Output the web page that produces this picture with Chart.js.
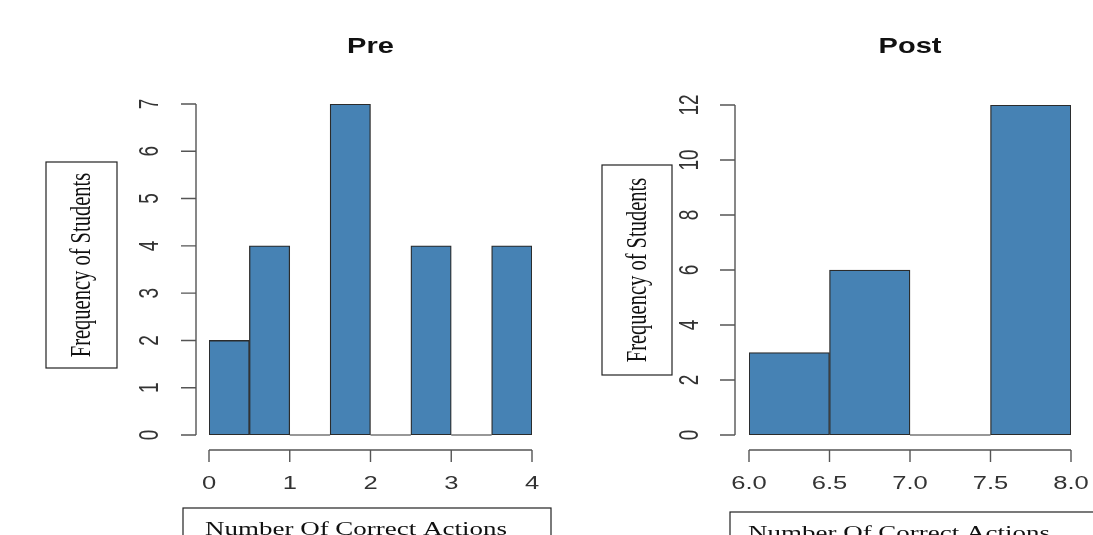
<!DOCTYPE html>
<html>
<head>
<meta charset="utf-8">
<script src="https://cdn.jsdelivr.net/npm/chart.js@4.4.0/dist/chart.umd.min.js"></script>
<style>
  html, body { margin: 0; padding: 0; background: #fff; overflow: hidden; }
  #wrap { position: relative; width: 1093px; height: 535px; }
  #pre { position: absolute; left: 0; top: 0; }
  #post { position: absolute; left: 546px; top: 0; }
</style>
</head>
<body>
<div id="wrap">
  <canvas id="pre" width="560" height="535"></canvas>
  <canvas id="post" width="547" height="535"></canvas>
</div>
<script>
// Данные гистограмм (начало интервала, ширина 0.5)
const binWidth = 0.5;
const preBinStarts = [0, 0.5, 1, 1.5, 2, 2.5, 3, 3.5];
const preCounts = [2, 4, 0, 7, 0, 4, 0, 4];
const postBinStarts = [6, 6.5, 7, 7.5];
const postCounts = [3, 6, 0, 12];

// Подписи осей
const preXTicks = [0, 1, 2, 3, 4];
const preXLabels = ["0", "1", "2", "3", "4"];
const preYTicks = [0, 1, 2, 3, 4, 5, 6, 7];
const postXTicks = [6, 6.5, 7, 7.5, 8];
const postXLabels = ["6.0", "6.5", "7.0", "7.5", "8.0"];
const postYTicks = [0, 2, 4, 6, 8, 10, 12];

const barColor = "#4682B4";
const axisColor = "#555";
const stretch = 1.42; // картинка растянута по горизонтали

// текст, растянутый по горизонтали экрана (rot - повернут на 90°)
function sText(ctx, txt, x, y, sx, rot) {
  ctx.save();
  ctx.translate(x, y);
  if (rot) {
    ctx.rotate(-Math.PI / 2);
    ctx.scale(1, sx);
  } else {
    ctx.scale(sx, 1);
  }
  ctx.fillText(txt, 0, 0);
  ctx.restore();
}

// Оси в стиле R: смещены от области графика, подписи Y повернуты
const rAxes = {
  id: "rAxes",
  afterDatasetsDraw(chart, args, o) {
    const ctx = chart.ctx, xs = chart.scales.x, ys = chart.scales.y;
    const area = chart.chartArea;
    ctx.save();

    // пустые интервалы - линия по нулю
    ctx.strokeStyle = "#333";
    ctx.lineWidth = 1.2;
    ctx.beginPath();
    o.binStarts.forEach((s, i) => {
      if (o.counts[i] === 0) {
        const y = ys.getPixelForValue(0);
        ctx.moveTo(xs.getPixelForValue(s), y);
        ctx.lineTo(xs.getPixelForValue(s + binWidth), y);
      }
    });
    ctx.stroke();

    ctx.strokeStyle = axisColor;
    ctx.lineWidth = 1.4;

    // ось Y
    const ax = area.left - o.yGap;
    ctx.beginPath();
    ctx.moveTo(ax, ys.getPixelForValue(o.yTicks[0]));
    ctx.lineTo(ax, ys.getPixelForValue(o.yTicks[o.yTicks.length - 1]));
    o.yTicks.forEach((v) => {
      const p = ys.getPixelForValue(v);
      ctx.moveTo(ax, p);
      ctx.lineTo(ax - 15, p);
    });
    ctx.stroke();

    ctx.fillStyle = "#333";
    ctx.font = "19px 'Liberation Sans', Arial, sans-serif";
    ctx.textAlign = "center";
    ctx.textBaseline = "middle";
    o.yTicks.forEach((v) => {
      sText(ctx, String(v), o.yLabelX, ys.getPixelForValue(v), stretch, true);
    });

    // ось X
    const ay = area.bottom + 15;
    ctx.beginPath();
    ctx.moveTo(xs.getPixelForValue(o.xTicks[0]), ay);
    ctx.lineTo(xs.getPixelForValue(o.xTicks[o.xTicks.length - 1]), ay);
    o.xTicks.forEach((v) => {
      const p = xs.getPixelForValue(v);
      ctx.moveTo(p, ay);
      ctx.lineTo(p, ay + 12);
    });
    ctx.stroke();
    ctx.font = "18px 'Liberation Sans', Arial, sans-serif";
    o.xTicks.forEach((v, i) => {
      sText(ctx, o.xLabels[i], xs.getPixelForValue(v), 484, stretch, false);
    });

    // заголовок
    ctx.fillStyle = "#111";
    ctx.font = "bold 22px 'Liberation Sans', Arial, sans-serif";
    sText(ctx, o.title, (area.left + area.right) / 2, 47, 1.32, false);

    // рамки с подписями осей
    ctx.strokeStyle = "#222";
    ctx.lineWidth = 1.2;
    const yb = o.yBox;
    ctx.strokeRect(yb[0], yb[1], yb[2], yb[3]);
    ctx.fillStyle = "#111";
    ctx.font = "20.5px 'Liberation Serif', 'Times New Roman', serif";
    sText(ctx, "Frequency of Students", yb[0] + yb[2] / 2 + 1, yb[1] + yb[3] / 2, stretch, true);

    const xb = o.xBox;
    ctx.strokeRect(xb[0], xb[1], xb[2], xb[3]);
    ctx.font = "19px 'Liberation Serif', 'Times New Roman', serif";
    ctx.textAlign = "left";
    ctx.textBaseline = "alphabetic";
    sText(ctx, "Number Of Correct Actions", xb[0] + o.xTitleInset, xb[1] + 27, stretch, false);

    ctx.restore();
  },
};

function makeHist(id, starts, counts, xMin, xMax, yMax, pad, axes) {
  const points = starts.map((s, i) => ({ x: s + binWidth / 2, y: counts[i] }));
  return new Chart(document.getElementById(id).getContext("2d"), {
    type: "bar",
    data: {
      datasets: [
        {
          data: points,
          backgroundColor: barColor,
          borderColor: "#2b2b2b",
          borderWidth: 1.3,
          borderSkipped: false,
          barPercentage: 1,
          categoryPercentage: 1,
        },
      ],
    },
    options: {
      responsive: false,
      animation: false,
      layout: { padding: pad },
      plugins: {
        legend: { display: false },
        tooltip: { enabled: false },
        rAxes: Object.assign({ binStarts: starts, counts: counts }, axes),
      },
      scales: {
        x: { type: "linear", min: xMin, max: xMax, offset: false, display: false },
        y: { min: 0, max: yMax, display: false },
      },
    },
    plugins: [rAxes],
  });
}

makeHist("pre", preBinStarts, preCounts, 0, 4, 7,
  { left: 209, right: 28, top: 104, bottom: 100 },
  {
    title: "Pre",
    xTicks: preXTicks, xLabels: preXLabels, yTicks: preYTicks,
    yGap: 13, yLabelX: 151,
    yBox: [46, 162, 71, 206],
    xBox: [183, 508, 368, 40],
    xTitleInset: 22,
  });

makeHist("post", postBinStarts, postCounts, 6, 8, 12,
  { left: 203, right: 22, top: 105, bottom: 100 },
  {
    title: "Post",
    xTicks: postXTicks, xLabels: postXLabels, yTicks: postYTicks,
    yGap: 14, yLabelX: 145,
    yBox: [56, 165, 70, 210],
    xBox: [184, 512, 400, 40],
    xTitleInset: 18,
  });
</script>
</body>
</html>
